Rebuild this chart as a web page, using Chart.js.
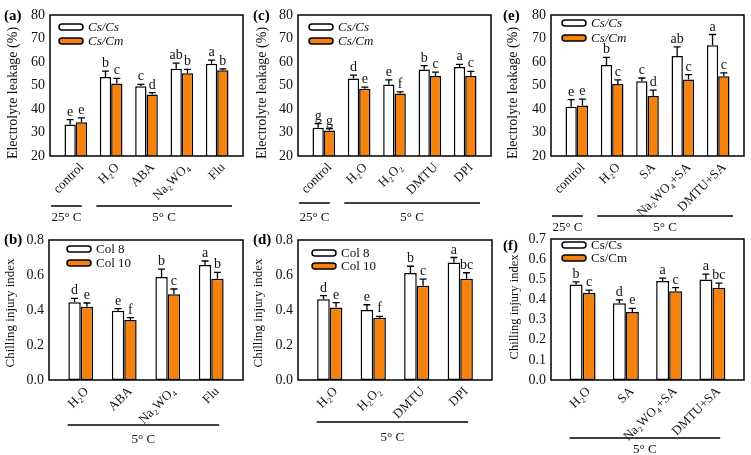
<!DOCTYPE html>
<html><head><meta charset="utf-8">
<script src="https://cdn.jsdelivr.net/npm/chart.js@4/dist/chart.umd.min.js"></script>
<style>
html,body{margin:0;padding:0;background:#fff;width:751px;height:455px;overflow:hidden;position:relative}
</style></head><body>
<script>
// ---------- DATA ----------
// (a) Electrolyte leakage, ABA / tungstate / fluridone
const catsA = ['control', 'H₂O', 'ABA', 'Na₂WO₄', 'Flu'];
const aCsCs = [33.4, 53.6, 49.7, 57.1, 59.3];
const aCsCsErr = [2.1, 2.5, 0.8, 2.4, 1.5];
const aCsCsLet = ['e', 'b', 'c', 'ab', 'a'];
const aCsCm = [34.4, 50.8, 46.2, 55.2, 56.5];
const aCsCmErr = [1.8, 2.2, 0.8, 1.7, 0.6];
const aCsCmLet = ['e', 'c', 'd', 'b', 'b'];

// (c) Electrolyte leakage, H2O2 / DMTU / DPI
const catsC = ['control', 'H₂O', 'H₂O₂', 'DMTU', 'DPI'];
const cCsCs = [32.0, 53.0, 50.4, 56.8, 57.9];
const cCsCsErr = [1.8, 1.4, 2.0, 1.7, 1.1];
const cCsCsLet = ['g', 'd', 'e', 'b', 'a'];
const cCsCm = [30.9, 48.6, 46.6, 54.0, 54.0];
const cCsCmErr = [0.8, 0.7, 0.7, 1.7, 2.0];
const cCsCmLet = ['g', 'e', 'f', 'c', 'c'];

// (e) Electrolyte leakage, SA combinations
const catsE = ['control', 'H₂O', 'SA', 'Na₂WO₄+SA', 'DMTU+SA'];
const eCsCs = [41.0, 58.7, 51.8, 62.6, 67.1];
const eCsCsErr = [3.0, 3.3, 1.4, 3.8, 4.6];
const eCsCsLet = ['e', 'b', 'c', 'ab', 'a'];
const eCsCm = [41.5, 50.6, 45.5, 52.6, 53.9];
const eCsCmErr = [2.7, 1.8, 2.5, 2.0, 1.5];
const eCsCmLet = ['e', 'c', 'd', 'c', 'c'];

// (b) Chilling injury index
const catsB = ['H₂O', 'ABA', 'Na₂WO₄', 'Flu'];
const bCol8 = [0.444, 0.396, 0.589, 0.657];
const bCol8Err = [0.023, 0.012, 0.045, 0.023];
const bCol8Let = ['d', 'e', 'b', 'a'];
const bCol10 = [0.419, 0.343, 0.490, 0.579];
const bCol10Err = [0.021, 0.013, 0.030, 0.036];
const bCol10Let = ['e', 'f', 'c', 'b'];

// (d) Chilling injury index
const catsD = ['H₂O', 'H₂O₂', 'DMTU', 'DPI'];
const dCol8 = [0.461, 0.400, 0.611, 0.672];
const dCol8Err = [0.021, 0.030, 0.039, 0.028];
const dCol8Let = ['d', 'e', 'b', 'a'];
const dCol10 = [0.415, 0.356, 0.539, 0.579];
const dCol10Err = [0.027, 0.008, 0.038, 0.034];
const dCol10Let = ['e', 'f', 'c', 'bc'];

// (f) Chilling injury index
const catsF = ['H₂O', 'SA', 'Na₂WO₄+SA', 'DMTU+SA'];
const fCsCs = [0.474, 0.381, 0.491, 0.499];
const fCsCsErr = [0.013, 0.017, 0.015, 0.027];
const fCsCsLet = ['b', 'd', 'a', 'a'];
const fCsCm = [0.432, 0.338, 0.441, 0.458];
const fCsCmErr = [0.014, 0.018, 0.018, 0.023];
const fCsCmLet = ['c', 'e', 'c', 'bc'];

// group labels under the axes
const tempTop = [{from: -0.7, to: 0.17, label: '25° C'}, {from: 0.58, to: 4.42, label: '5° C'}];
const tempBottom = [{from: -0.3, to: 3.18, label: '5° C'}];

// ---------- STYLE / LAYOUT ----------
const SERIF = '"Liberation Serif", "Times New Roman", serif';
const ORANGE = '#F5820D';
const INK = '#111';
const fmt0 = v => String(Math.round(v));
const fmt1 = v => v.toFixed(1);

const panels = [
  {tag: '(a)', canvas: [0, 0, 250, 240], plot: [50, 15, 243, 156], cats: catsA,
   series: [{label: 'Cs/Cs', v: aCsCs, e: aCsCsErr, l: aCsCsLet}, {label: 'Cs/Cm', v: aCsCm, e: aCsCmErr, l: aCsCmLet}],
   ymin: 20, ymax: 80, step: 10, fmt: fmt0, ytitle: 'Electrolyte leakage (%)', titleX: 13, titleY: 93, titleSize: 14,
   tagXY: [4, 20], leg: [9, 12, 14], legItalic: true, cp: 0.64, groups: tempTop, lineDy: 50, labelDy: 62},
  {tag: '(c)', canvas: [250, 0, 250, 240], plot: [298, 15, 491, 156], cats: catsC,
   series: [{label: 'Cs/Cs', v: cCsCs, e: cCsCsErr, l: cCsCsLet}, {label: 'Cs/Cm', v: cCsCm, e: cCsCmErr, l: cCsCmLet}],
   ymin: 20, ymax: 80, step: 10, fmt: fmt0, ytitle: 'Electrolyte leakage (%)', titleX: 262, titleY: 93, titleSize: 14,
   tagXY: [253, 20], leg: [11, 12, 14], legItalic: true, cp: 0.64, groups: tempTop, lineDy: 47, labelDy: 62},
  {tag: '(e)', canvas: [500, 0, 251, 240], plot: [551, 15, 744, 156], cats: catsE,
   series: [{label: 'Cs/Cs', v: eCsCs, e: eCsCsErr, l: eCsCsLet}, {label: 'Cs/Cm', v: eCsCm, e: eCsCmErr, l: eCsCmLet}],
   ymin: 20, ymax: 80, step: 10, fmt: fmt0, ytitle: 'Electrolyte leakage (%)', titleX: 513, titleY: 93, titleSize: 14,
   tagXY: [503, 20], leg: [11, 8, 15], legItalic: true, cp: 0.64, groups: tempTop, lineDy: 60, labelDy: 72},
  {tag: '(b)', canvas: [0, 220, 250, 235], plot: [49, 240, 243, 380], cats: catsB,
   series: [{label: 'Col 8', v: bCol8, e: bCol8Err, l: bCol8Let}, {label: 'Col 10', v: bCol10, e: bCol10Err, l: bCol10Let}],
   ymin: 0, ymax: 0.8, step: 0.2, fmt: fmt1, ytitle: 'Chilling injury index', titleX: 11, titleY: 313, titleSize: 13,
   tagXY: [4, 244], leg: [18, 9, 14], legItalic: false, cp: 0.57, groups: tempBottom, lineDy: 45, labelDy: 60},
  {tag: '(d)', canvas: [250, 220, 250, 235], plot: [298, 240, 492, 380], cats: catsD,
   series: [{label: 'Col 8', v: dCol8, e: dCol8Err, l: dCol8Let}, {label: 'Col 10', v: dCol10, e: dCol10Err, l: dCol10Let}],
   ymin: 0, ymax: 0.8, step: 0.2, fmt: fmt1, ytitle: 'Chilling injury index', titleX: 259, titleY: 313, titleSize: 13,
   tagXY: [253, 244], leg: [14, 13, 13], legItalic: false, cp: 0.58, groups: tempBottom, lineDy: 42, labelDy: 58},
  {tag: '(f)', canvas: [500, 220, 251, 235], plot: [551, 239, 744, 380], cats: catsF,
   series: [{label: 'Cs/Cs', v: fCsCs, e: fCsCsErr, l: fCsCsLet}, {label: 'Cs/Cm', v: fCsCm, e: fCsCmErr, l: fCsCmLet}],
   ymin: 0, ymax: 0.7, step: 0.1, fmt: fmt1, ytitle: 'Chilling injury index', titleX: 515, titleY: 307, titleSize: 12.5,
   tagXY: [503, 250], leg: [11, 6, 13], legItalic: false, cp: 0.6, groups: tempBottom, lineDy: 58, labelDy: 70}
];

function makeDeco(spec) {
  return {
    id: 'deco',
    afterDraw(chart) {
      const ctx = chart.ctx, ca = chart.chartArea, xs = chart.scales.x, ys = chart.scales.y;
      const ox = spec.canvas[0], oy = spec.canvas[1];
      ctx.save();
      // error bars + letters
      chart.data.datasets.forEach((ds, k) => {
        const meta = chart.getDatasetMeta(k);
        meta.data.forEach((el, i) => {
          const v = ds.data[i].y, err = ds.errs[i];
          const yE = ys.getPixelForValue(v + err);
          ctx.strokeStyle = '#000'; ctx.lineWidth = 1.3;
          ctx.beginPath();
          ctx.moveTo(el.x, el.y); ctx.lineTo(el.x, yE);
          ctx.moveTo(el.x - 3.5, yE); ctx.lineTo(el.x + 3.5, yE);
          ctx.stroke();
          ctx.fillStyle = INK; ctx.font = '14px ' + SERIF;
          ctx.textAlign = 'center'; ctx.textBaseline = 'alphabetic';
          ctx.fillText(ds.lets[i], el.x, yE - 4);
        });
      });
      // frame
      ctx.strokeStyle = '#000'; ctx.lineWidth = 1.5;
      ctx.strokeRect(ca.left, ca.top, ca.right - ca.left, ca.bottom - ca.top);
      // legend
      const [ldx, ldy, lsp] = spec.leg;
      chart.data.datasets.forEach((ds, k) => {
        const x = ca.left + ldx, y = ca.top + ldy + k * lsp;
        ctx.beginPath();
        ctx.roundRect(x, y - 3, 24, 6, 3);
        ctx.fillStyle = ds.backgroundColor; ctx.fill();
        ctx.strokeStyle = '#000'; ctx.lineWidth = 1.5; ctx.stroke();
        ctx.fillStyle = INK;
        ctx.font = (spec.legItalic ? 'italic ' : '') + '13px ' + SERIF;
        ctx.textAlign = 'left'; ctx.textBaseline = 'middle';
        ctx.fillText(ds.label, x + 29, y + 1);
      });
      // group lines under the axis
      spec.groups.forEach(g => {
        const x1 = xs.getPixelForValue(g.from), x2 = xs.getPixelForValue(g.to);
        const yl = ca.bottom + spec.lineDy;
        ctx.strokeStyle = '#000'; ctx.lineWidth = 1.5;
        ctx.beginPath(); ctx.moveTo(x1, yl); ctx.lineTo(x2, yl); ctx.stroke();
        ctx.fillStyle = INK; ctx.font = '13px ' + SERIF;
        ctx.textAlign = 'center'; ctx.textBaseline = 'middle';
        ctx.fillText(g.label, (x1 + x2) / 2, ca.bottom + spec.labelDy);
      });
      // y title
      ctx.save();
      ctx.translate(spec.titleX - ox, spec.titleY - oy);
      ctx.rotate(-Math.PI / 2);
      ctx.fillStyle = INK; ctx.font = spec.titleSize + 'px ' + SERIF;
      ctx.textAlign = 'center'; ctx.textBaseline = 'middle';
      ctx.fillText(spec.ytitle, 0, 0);
      ctx.restore();
      // panel tag
      ctx.fillStyle = '#000'; ctx.font = 'bold 15px ' + SERIF;
      ctx.textAlign = 'left'; ctx.textBaseline = 'alphabetic';
      ctx.fillText(spec.tag, spec.tagXY[0] - ox, spec.tagXY[1] - oy);
      ctx.restore();
    }
  };
}

function makeChart(spec) {
  const [cx, cy, cw, ch] = spec.canvas;
  const [pl, pt, pr, pb] = spec.plot;
  const wrap = document.createElement('div');
  wrap.style.cssText = `position:absolute;left:${cx}px;top:${cy}px;width:${cw}px;height:${ch}px`;
  const cv = document.createElement('canvas');
  cv.width = cw; cv.height = ch;
  cv.style.width = cw + 'px'; cv.style.height = ch + 'px';
  wrap.appendChild(cv); document.body.appendChild(wrap);
  const n = spec.cats.length, pad = 0.73;
  new Chart(cv, {
    type: 'bar',
    data: {
      datasets: spec.series.map((s, k) => ({
        label: s.label,
        data: s.v.map((v, i) => ({x: i, y: v})),
        errs: s.e, lets: s.l,
        backgroundColor: k === 0 ? '#ffffff' : ORANGE,
        borderColor: '#000', borderWidth: 1.5, borderSkipped: false,
        categoryPercentage: spec.cp, barPercentage: 1
      }))
    },
    options: {
      responsive: false, animation: false, devicePixelRatio: 1,
      layout: {padding: {left: 0, top: pt - cy, right: (cx + cw) - pr, bottom: 0}},
      plugins: {legend: {display: false}, tooltip: {enabled: false}},
      scales: {
        x: {
          type: 'linear', min: -pad, max: n - 1 + pad, offset: false,
          grid: {display: false, drawTicks: false, offset: false}, border: {display: false},
          afterBuildTicks: ax => { ax.ticks = spec.cats.map((_, i) => ({value: i})); },
          afterFit: ax => { ax.height = (cy + ch) - pb; },
          ticks: {autoSkip: false, minRotation: 45, maxRotation: 45, padding: 4, labelOffset: 6,
                  color: INK, font: {family: SERIF, size: 13},
                  callback: v => spec.cats[v]}
        },
        y: {
          min: spec.ymin, max: spec.ymax,
          grid: {display: false, drawTicks: false}, border: {display: false},
          afterFit: ax => { ax.width = pl - cx; },
          ticks: {stepSize: spec.step, padding: 5, color: INK, font: {family: SERIF, size: 14},
                  callback: v => spec.fmt(v)}
        }
      }
    },
    plugins: [makeDeco(spec)]
  });
}

panels.forEach(makeChart);
</script>
</body></html>
